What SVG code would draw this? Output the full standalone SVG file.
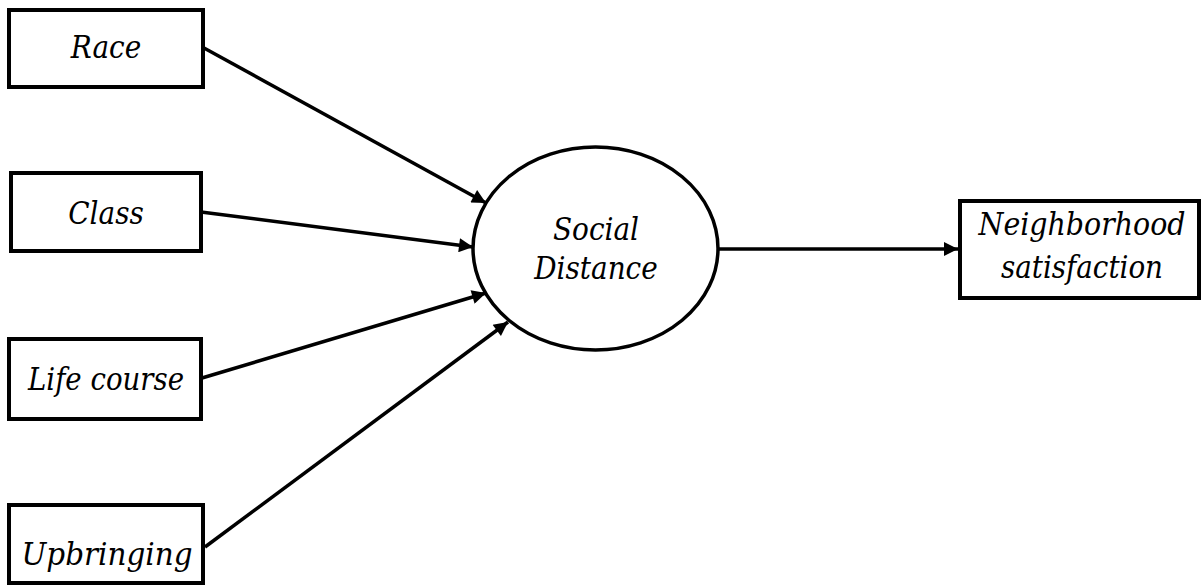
<svg xmlns="http://www.w3.org/2000/svg" width="1204" height="587" viewBox="0 0 1204 587">
<style>
.box{fill:#fff;stroke:#000;stroke-width:4}
.ell{fill:#fff;stroke:#000;stroke-width:3.5}
.lbl{font-family:"DejaVu Serif Condensed","DejaVu Serif",serif;font-style:italic;font-size:31px;fill:#000;text-anchor:middle}
.con line{stroke:#000;stroke-width:3.5;marker-end:url(#arr)}
</style>
<defs>
<marker id="arr" viewBox="0 0 10 10" refX="10" refY="5" markerWidth="5" markerHeight="4" markerUnits="strokeWidth" orient="auto">
<path d="M0,0 L10,5 L0,10 z" fill="#000"/>
</marker>
</defs>
<rect width="1204" height="587" fill="#fff"/>
<g id="connectors" class="con">
<line x1="204" y1="48" x2="486" y2="203"/>
<line x1="201" y1="212" x2="473" y2="247"/>
<line x1="202" y1="378" x2="486" y2="293"/>
<line x1="205" y1="547" x2="508" y2="322"/>
<line x1="718" y1="249" x2="958" y2="249"/>
</g>
<g id="race"><rect class="box" x="9" y="10" width="194" height="77"/><text class="lbl" x="106" y="58">Race</text></g>
<g id="class"><rect class="box" x="11" y="173" width="190" height="78"/><text class="lbl" x="106" y="224">Class</text></g>
<g id="lifecourse"><rect class="box" x="9" y="339" width="192" height="80"/><text class="lbl" x="106" y="390" textLength="156" lengthAdjust="spacingAndGlyphs">Life course</text></g>
<g id="upbringing"><rect class="box" x="9" y="505" width="194" height="78"/><text class="lbl" x="107" y="565" textLength="171" lengthAdjust="spacingAndGlyphs">Upbringing</text></g>
<g id="socialdistance"><ellipse class="ell" cx="595.5" cy="248.5" rx="122.5" ry="101.5"/><text class="lbl" x="596" y="240">Social</text><text class="lbl" x="596" y="279">Distance</text></g>
<g id="neighborhood"><rect class="box" x="960" y="201" width="239" height="97"/><text class="lbl" x="1082" y="235" textLength="207" lengthAdjust="spacingAndGlyphs">Neighborhood</text><text class="lbl" x="1082" y="278" textLength="162" lengthAdjust="spacingAndGlyphs">satisfaction</text></g>
</svg>
